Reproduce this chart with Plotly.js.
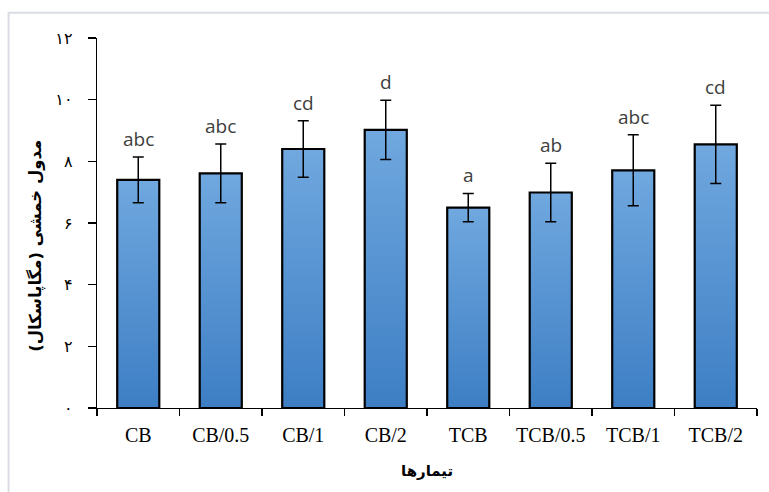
<!DOCTYPE html>
<html>
<head>
<meta charset="utf-8">
<script src="https://cdn.plot.ly/plotly-3.0.1.min.js"></script>
<style>
html,body{margin:0;padding:0;background:#fff;}
#chart{width:769px;height:492px;}
</style>
</head>
<body>
<div id="chart"></div>
<script>
// Data
const categories = ['CB', 'CB/0.5', 'CB/1', 'CB/2', 'TCB', 'TCB/0.5', 'TCB/1', 'TCB/2'];
const means = [7.40, 7.61, 8.40, 9.02, 6.50, 6.99, 7.71, 8.55];
const errors = [0.74, 0.95, 0.92, 0.96, 0.46, 0.95, 1.15, 1.27];
const letters = ['abc', 'abc', 'cd', 'd', 'a', 'ab', 'abc', 'cd'];
const yTickVals = [0, 2, 4, 6, 8, 10, 12];
const yTickText = ['۰', '۲', '۴', '۶', '۸', '۱۰', '۱۲'];
const yTitle = 'مدول خمشی (مگاپاسکال)';
const xTitle = 'تیمارها';

const trace = {
  type: 'bar',
  x: categories,
  y: means,
  width: 0.51,
  marker: {color: '#5592d2', line: {color: '#000000', width: 2.2}},
  error_y: {type: 'data', array: errors, visible: true, color: '#000000', thickness: 1.5, width: 5.5},
  hoverinfo: 'none'
};

const annotations = categories.map((c, i) => ({
  x: c, y: means[i] + errors[i], xref: 'x', yref: 'y',
  text: letters[i], showarrow: false, yanchor: 'bottom', yshift: 3,
  font: {family: 'Open Sans, Noto Sans, sans-serif', size: 19, color: '#404040'}
}));
annotations.push({
  xref: 'paper', yref: 'paper', x: -0.0935, y: 0.439,
  text: '<b>' + yTitle + '</b>', textangle: -90, showarrow: false,
  xanchor: 'center', yanchor: 'middle',
  font: {family: 'DejaVu Sans, sans-serif', size: 16.5, color: '#000000'}
});
annotations.push({
  xref: 'paper', yref: 'paper', x: 0.5, y: -0.17,
  text: '<b>' + xTitle + '</b>', showarrow: false,
  xanchor: 'center', yanchor: 'middle',
  font: {family: 'DejaVu Sans, sans-serif', size: 15, color: '#000000'}
});

const layout = {
  width: 769, height: 492,
  margin: {l: 97, r: 12, t: 38, b: 84},
  paper_bgcolor: '#ffffff', plot_bgcolor: '#ffffff',
  showlegend: false,
  xaxis: {
    range: [-0.5, 7.5], showgrid: false, zeroline: false,
    showline: true, linecolor: '#000000', linewidth: 1.3,
    ticks: 'outside', tickson: 'boundaries', ticklen: 7, tickwidth: 1.3, tickcolor: '#000000',
    ticklabelstandoff: 9,
    tickfont: {family: 'Liberation Serif, Times New Roman, serif', size: 20, color: '#000000'},
    fixedrange: true
  },
  yaxis: {
    range: [0, 12], showgrid: false, zeroline: false,
    showline: true, linecolor: '#000000', linewidth: 1.3,
    ticks: 'outside', ticklen: 8, tickwidth: 1.3, tickcolor: '#000000',
    tickvals: yTickVals, ticktext: yTickText, ticklabelstandoff: 12,
    tickfont: {family: 'DejaVu Sans, sans-serif', size: 16, color: '#000000'},
    fixedrange: true
  },
  annotations: annotations,
  shapes: [{
    type: 'rect', xref: 'paper', yref: 'paper',
    x0: -0.134, x1: 1.06, y0: -0.3, y1: 1.068,
    line: {color: '#d9dde3', width: 2}, fillcolor: 'rgba(0,0,0,0)', layer: 'below'
  }]
};

Plotly.newPlot('chart', [trace], layout, {staticPlot: true}).then(gd => {
  const svg = gd.querySelector('svg.main-svg');
  const ns = 'http://www.w3.org/2000/svg';
  let defs = svg.querySelector('defs');
  if (!defs) { defs = document.createElementNS(ns, 'defs'); svg.insertBefore(defs, svg.firstChild); }
  const grad = document.createElementNS(ns, 'linearGradient');
  grad.setAttribute('id', 'barGrad');
  grad.setAttribute('x1', '0'); grad.setAttribute('y1', '0');
  grad.setAttribute('x2', '0'); grad.setAttribute('y2', '1');
  [['0%', '#70a8df'], ['100%', '#3d7ec4']].forEach(([o, c]) => {
    const s = document.createElementNS(ns, 'stop');
    s.setAttribute('offset', o); s.setAttribute('stop-color', c);
    grad.appendChild(s);
  });
  defs.appendChild(grad);
  gd.querySelectorAll('.bars .point path').forEach(p => { p.style.fill = 'url(#barGrad)'; });
});
</script>
</body>
</html>
